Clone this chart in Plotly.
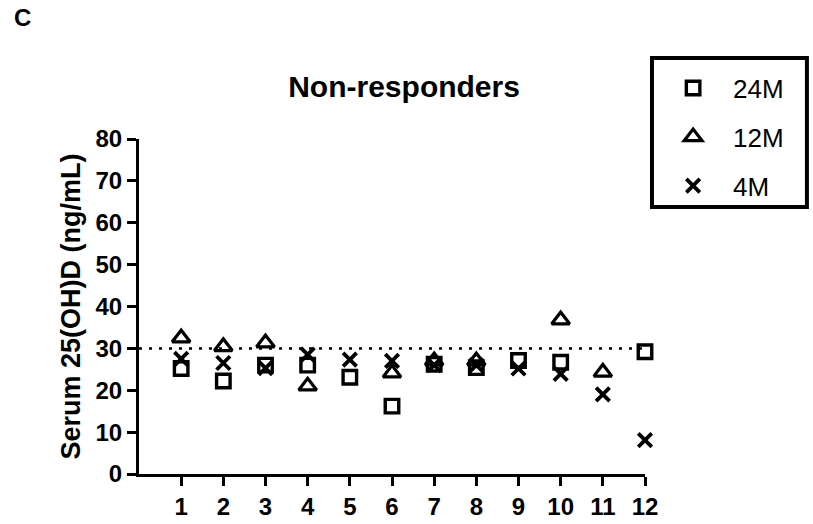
import plotly.graph_objects as go

# Serum 25(OH)D of non-responders at three follow-up points (ng/mL)
subjects = [1, 2, 3, 4, 5, 6, 7, 8, 9, 10, 11, 12]
m24 = [25.2, 22.2, 26.0, 26.0, 23.1, 16.2, 26.2, 25.4, 27.1, 26.7, None, 29.2]
m12 = [32.5, 30.4, 31.3, 21.0, None, 24.1, 27.0, 27.0, None, 36.8, 24.3, None]
m4 = [27.5, 26.5, 25.3, 28.5, 27.3, 27.0, 26.0, 26.0, 25.2, 23.9, 19.0, 8.1]
series_names = ["24M", "12M", "4M"]
y_ticks = [0, 10, 20, 30, 40, 50, 60, 70, 80]
threshold = 30

FONT = "Liberation Sans, Arial, sans-serif"

fig = go.Figure()
styles = [
    dict(symbol="square-open", size=13.5, line=dict(width=3.4, color="black")),
    dict(symbol="triangle-up-open", size=15.5, line=dict(width=3.2, color="black")),
    dict(symbol="x-thin-open", size=13.5, line=dict(width=3.8, color="black")),
]
for name, vals, st in zip(series_names, [m24, m12, m4], styles):
    fig.add_trace(go.Scatter(
        x=subjects, y=vals, mode="markers", name=name, legendgroup=name,
        marker=dict(color="black", **st), cliponaxis=False,
    ))

# dotted sufficiency line
fig.add_shape(type="line", xref="x", yref="y", x0=0, x1=12, y0=threshold, y1=threshold,
              line=dict(color="black", width=2.5, dash="3px,7px"), layer="below")

# legend frame
fig.add_shape(type="rect", xref="paper", yref="paper",
              x0=1.0138, x1=1.320, y0=0.797, y1=1.2418,
              line=dict(color="black", width=4))

fig.add_annotation(text="<b>C</b>", xref="paper", yref="paper", x=-0.2302, y=1.364,
                   xanchor="center", yanchor="middle", showarrow=False,
                   font=dict(family=FONT, size=24, color="black"))

fig.update_layout(
    width=813, height=524,
    margin=dict(l=139, r=168, t=139, b=50),
    plot_bgcolor="white", paper_bgcolor="white",
    title=dict(text="<b>Non-responders</b>", x=0.497, y=0.835, xanchor="center",
               yanchor="middle", font=dict(family=FONT, size=30, color="black")),
    font=dict(family=FONT, color="black"),
    legend=dict(x=1.016, y=1.222, xanchor="left", yanchor="top", itemwidth=70,
                font=dict(family=FONT, size=26, color="black"),
                tracegroupgap=12, bgcolor="rgba(0,0,0,0)"),
    xaxis=dict(range=[0, 12], tickvals=subjects, ticktext=[f"<b>{s}</b>" for s in subjects],
               automargin=False,
               showgrid=False, zeroline=False, showline=True, linecolor="black", linewidth=3,
               ticks="outside", ticklen=9, tickwidth=3, tickcolor="black",
               tickfont=dict(family=FONT, size=24, color="black")),
    yaxis=dict(range=[0, 80], tickvals=y_ticks, ticktext=[f"<b>{v}</b>" for v in y_ticks],
               automargin=False,
               showgrid=False, zeroline=False, showline=True, linecolor="black", linewidth=3,
               ticks="outside", ticklen=9, tickwidth=3, tickcolor="black",
               tickfont=dict(family=FONT, size=24, color="black"),
               title=dict(text="<b>Serum 25(OH)D (ng/mL)</b>", standoff=8,
                          font=dict(family=FONT, size=27, color="black"))),
)

fig.write_html("out.html")
